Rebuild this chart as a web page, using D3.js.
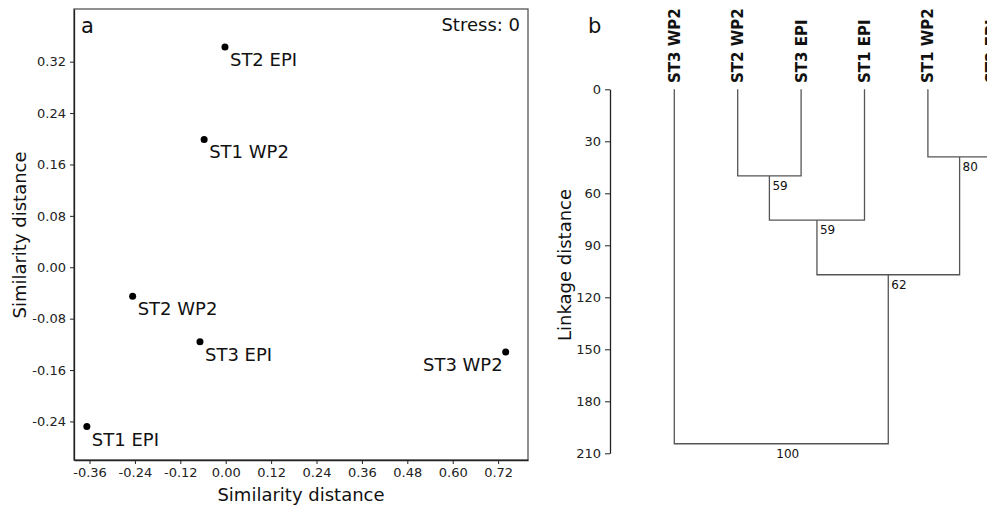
<!DOCTYPE html>
<html>
<head>
<meta charset="utf-8">
<script src="https://cdn.jsdelivr.net/npm/d3@7"></script>
<style>
  body { margin: 0; background: #fff; }
  svg { display: block; font-family: "DejaVu Sans", Verdana, sans-serif; }
</style>
</head>
<body>
<div id="chart"></div>
<script>
// panel a: nMDS ordination
const sites = ["ST2 EPI", "ST1 WP2", "ST2 WP2", "ST3 EPI", "ST1 EPI", "ST3 WP2"];
const simX = [-0.002, -0.057, -0.246, -0.068, -0.367, 0.740];
const simY = [0.343, 0.199, -0.045, -0.116, -0.248, -0.132];
const xTicks = [-0.36, -0.24, -0.12, 0, 0.12, 0.24, 0.36, 0.48, 0.60, 0.72];
const yTicks = [-0.24, -0.16, -0.08, 0, 0.08, 0.16, 0.24, 0.32];

// panel b: UPGMA dendrogram
const leaves = ["ST3 WP2", "ST2 WP2", "ST3 EPI", "ST1 EPI", "ST1 WP2", "ST2 EPI"];
const mergeLeft = ["ST2 WP2", "m0", "ST1 WP2", "m1", "ST3 WP2"];
const mergeRight = ["ST3 EPI", "ST1 EPI", "ST2 EPI", "m2", "m3"];
const mergeHeight = [50, 75.5, 39, 107, 204.5];
const support = [59, 59, 80, 62, 100];
const linkTicks = [0, 30, 60, 90, 120, 150, 180, 210];

let width = 987, height = 508;
let ink = "#222", grey = "#555";

let svg = d3.select("#chart").append("svg")
  .attr("width", width)
  .attr("height", height);

// ---------- panel a ----------
let x = d3.scaleLinear().domain([-0.401, 0.799]).range([74, 528]);
let y = d3.scaleLinear().domain([-0.300, 0.402]).range([460, 9]);

let gA = svg.append("g");

gA.append("rect")
  .attr("x", 74).attr("y", 9)
  .attr("width", 454).attr("height", 451)
  .attr("fill", "none")
  .attr("stroke", grey)
  .attr("stroke-width", 1.3);

let ax = gA.append("g")
  .attr("transform", "translate(0,460)")
  .call(d3.axisBottom(x).tickValues(xTicks).tickSize(4).tickPadding(4).tickSizeOuter(0)
    .tickFormat(d3.format(".2f")));
let ay = gA.append("g")
  .attr("transform", "translate(74,0)")
  .call(d3.axisLeft(y).tickValues(yTicks).tickSize(4).tickPadding(4).tickSizeOuter(0)
    .tickFormat(d3.format(".2f")));
[ax, ay].forEach(function (g) {
  g.select(".domain").attr("stroke", ink).attr("stroke-width", 1.3);
  g.selectAll(".tick line").attr("stroke", ink);
  g.selectAll(".tick text").attr("font-size", 13).attr("fill", ink)
    .attr("font-family", "DejaVu Sans");
});
ax.selectAll(".tick text").text(function (d) { return d3.format(".2f")(d).replace("−", "-"); });
ay.selectAll(".tick text").text(function (d) { return d3.format(".2f")(d).replace("−", "-"); });

gA.selectAll("circle.pt")
  .data(sites)
  .enter()
  .append("circle")
  .attr("class", "pt")
  .attr("cx", function (d, i) { return x(simX[i]); })
  .attr("cy", function (d, i) { return y(simY[i]); })
  .attr("r", 3.5)
  .attr("fill", "#000");

gA.selectAll("text.lbl")
  .data(sites)
  .enter()
  .append("text")
  .attr("class", "lbl")
  .attr("x", function (d, i) { return x(simX[i]) + (simX[i] > 0.5 ? -3 : 5); })
  .attr("y", function (d, i) { return y(simY[i]) + 19; })
  .attr("text-anchor", function (d, i) { return simX[i] > 0.5 ? "end" : "start"; })
  .attr("font-size", 18)
  .attr("fill", "#111")
  .text(function (d) { return d; });

gA.append("text").attr("x", 81).attr("y", 33).attr("font-size", 21).attr("fill", "#111").text("a");
gA.append("text").attr("x", 520).attr("y", 31).attr("text-anchor", "end")
  .attr("font-size", 18).attr("fill", "#111").text("Stress: 0");

gA.append("text")
  .attr("x", 301).attr("y", 501)
  .attr("text-anchor", "middle")
  .attr("font-size", 18).attr("fill", "#111")
  .text("Similarity distance");
gA.append("text")
  .attr("transform", "translate(26,235) rotate(-90)")
  .attr("text-anchor", "middle")
  .attr("font-size", 18).attr("fill", "#111")
  .text("Similarity distance");

// ---------- panel b ----------
let lx = d3.scalePoint().domain(leaves).range([674.3, 991.3]);
let ly = d3.scaleLinear().domain([0, 210]).range([89.3, 453.3]);

let gB = svg.append("g");

let ab = gB.append("g")
  .attr("transform", "translate(610,0)")
  .call(d3.axisLeft(ly).tickValues(linkTicks).tickSize(5).tickPadding(4).tickSizeOuter(0));
ab.select(".domain").attr("stroke", ink).attr("stroke-width", 1.3);
ab.selectAll(".tick line").attr("stroke", ink);
ab.selectAll(".tick text").attr("font-size", 13).attr("fill", ink).attr("font-family", "DejaVu Sans");

// node positions
let pos = {};
leaves.forEach(function (l) { pos[l] = { x: lx(l), h: 0 }; });
mergeLeft.forEach(function (l, i) {
  let a = pos[l], b = pos[mergeRight[i]];
  pos["m" + i] = { x: (a.x + b.x) / 2, h: mergeHeight[i], a: a, b: b };
});

let links = [];
mergeLeft.forEach(function (l, i) {
  let n = pos["m" + i];
  links.push([[n.a.x, ly(n.a.h)], [n.a.x, ly(n.h)], [n.b.x, ly(n.h)], [n.b.x, ly(n.b.h)]]);
});

gB.selectAll("path.link")
  .data(links)
  .enter()
  .append("path")
  .attr("class", "link")
  .attr("d", d3.line())
  .attr("fill", "none")
  .attr("stroke", grey)
  .attr("stroke-width", 1.3);

gB.selectAll("text.boot")
  .data(support)
  .enter()
  .append("text")
  .attr("class", "boot")
  .attr("x", function (d, i) { return pos["m" + i].x + (i === 4 ? -5 : 3); })
  .attr("y", function (d, i) { return ly(mergeHeight[i]) + 14; })
  .attr("font-size", 12)
  .attr("fill", "#111")
  .text(function (d) { return d; });

gB.selectAll("text.leaf")
  .data(leaves)
  .enter()
  .append("text")
  .attr("class", "leaf")
  .attr("transform", function (d) { return "translate(" + lx(d) + ",83) rotate(-90)"; })
  .attr("dy", "0.36em")
  .attr("font-size", 15)
  .attr("font-weight", "bold")
  .attr("fill", "#111")
  .text(function (d) { return d; });

gB.append("text").attr("x", 588).attr("y", 33).attr("font-size", 21).attr("fill", "#111").text("b");
gB.append("text")
  .attr("transform", "translate(571,265) rotate(-90)")
  .attr("text-anchor", "middle")
  .attr("font-size", 18).attr("fill", "#111")
  .text("Linkage distance");
</script>
</body>
</html>
